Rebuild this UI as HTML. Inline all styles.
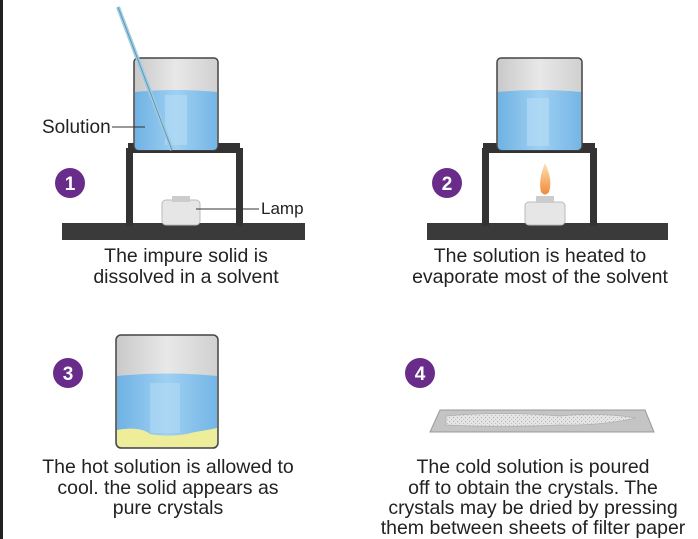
<!DOCTYPE html>
<html><head><meta charset="utf-8"><style>
html,body{margin:0;padding:0;background:#fff;}
svg{display:block;}
text{font-family:"Liberation Sans",sans-serif;fill:#222;}
</style></head><body>
<svg width="698" height="539" viewBox="0 0 698 539" xmlns="http://www.w3.org/2000/svg">
<defs>
<linearGradient id="gl" x1="0" x2="1"><stop offset="0" stop-color="#c9c9c9"/><stop offset="0.5" stop-color="#e8e8e8"/><stop offset="1" stop-color="#d0d0d0"/></linearGradient>
<linearGradient id="wt" x1="0" x2="1"><stop offset="0" stop-color="#6fb2e4"/><stop offset="0.5" stop-color="#9fd0f2"/><stop offset="1" stop-color="#74b6e6"/></linearGradient>
<linearGradient id="fl" x1="0" x2="0" y1="0" y2="1"><stop offset="0" stop-color="#fde3b0"/><stop offset="1" stop-color="#f08a3c"/></linearGradient>
<pattern id="sp" width="4" height="4" patternUnits="userSpaceOnUse"><rect width="4" height="4" fill="#e4e4e4"/><rect x="1" y="1" width="1" height="1" fill="#b0b0b0"/><rect x="3" y="3" width="1" height="1" fill="#c0c0c0"/></pattern>
</defs>
<rect x="0" y="0" width="698" height="539" fill="#fff"/>
<rect x="0" y="0" width="3" height="539" fill="#222"/>

<!-- Panel 1 -->
<rect x="62" y="223" width="243" height="17" fill="#3a3a3a"/>
<rect x="126" y="148" width="7" height="78" fill="#333"/>
<rect x="236" y="148" width="7" height="78" fill="#333"/>
<rect x="128" y="143" width="112" height="10" fill="#333"/>
<rect x="134" y="58" width="84" height="92" rx="4" fill="url(#gl)" stroke="#444" stroke-width="1.5"/>
<path d="M135 92 Q175 88 217 92 L217 146 Q217 150 213 150 L139 150 Q135 150 135 146 Z" fill="url(#wt)"/>
<rect x="165" y="95" width="22" height="50" fill="#b8def6" opacity="0.6"/>
<line x1="118" y1="7" x2="172" y2="150" stroke="#9ccbe4" stroke-width="4"/>
<line x1="118" y1="7" x2="172" y2="150" stroke="#5c8ca8" stroke-width="0.8"/>
<rect x="162" y="200" width="38" height="25" rx="4" fill="#e6e6e6" stroke="#bbb"/>
<rect x="172" y="196" width="18" height="6" fill="#ccc"/>
<line x1="112" y1="127" x2="145" y2="127" stroke="#333" stroke-width="1"/>
<text x="42" y="133" font-size="19">Solution</text>
<line x1="196" y1="209" x2="259" y2="209" stroke="#333" stroke-width="1"/>
<text x="261" y="214" font-size="17">Lamp</text>
<circle cx="70" cy="183" r="15" fill="#6a2c8a"/>
<text x="70" y="190" font-size="19" font-weight="bold" text-anchor="middle" style="fill:#fff">1</text>
<text x="186" y="262" font-size="19.5" text-anchor="middle">The impure solid is</text>
<text x="186" y="283" font-size="19.5" text-anchor="middle">dissolved in a solvent</text>

<!-- Panel 2 -->
<rect x="427" y="223" width="241" height="17" fill="#3a3a3a"/>
<rect x="482" y="148" width="7" height="78" fill="#333"/>
<rect x="590" y="148" width="7" height="78" fill="#333"/>
<rect x="483" y="143" width="112" height="10" fill="#333"/>
<rect x="497" y="58" width="85" height="92" rx="4" fill="url(#gl)" stroke="#444" stroke-width="1.5"/>
<path d="M498 92 Q540 88 581 92 L581 146 Q581 150 577 150 L502 150 Q498 150 498 146 Z" fill="url(#wt)"/>
<rect x="527" y="98" width="22" height="48" fill="#b8def6" opacity="0.6"/>
<rect x="525" y="202" width="40" height="23" rx="4" fill="#e6e6e6" stroke="#bbb"/>
<rect x="536" y="196" width="18" height="7" fill="#ccc"/>
<path d="M545 163 Q553 180 549 192 Q545 197 541 192 Q538 180 545 163Z" fill="url(#fl)"/>
<circle cx="447" cy="183" r="15" fill="#6a2c8a"/>
<text x="447" y="190" font-size="19" font-weight="bold" text-anchor="middle" style="fill:#fff">2</text>
<text x="540" y="262" font-size="19.5" text-anchor="middle">The solution is heated to</text>
<text x="540" y="283" font-size="19.5" text-anchor="middle">evaporate most of the solvent</text>

<!-- Panel 3 -->
<rect x="116" y="335" width="102" height="113" rx="5" fill="url(#gl)" stroke="#444" stroke-width="1.5"/>
<path d="M117 376 Q167 371 217 376 L217 442 Q217 447 212 447 L122 447 Q117 447 117 442 Z" fill="url(#wt)"/>
<path d="M117 430 Q140 426 150 434 Q175 438 195 432 Q208 430 217 428 L217 442 Q217 447 212 447 L122 447 Q117 447 117 442 Z" fill="#eeee9a"/>
<rect x="150" y="383" width="30" height="50" fill="#b8def6" opacity="0.5"/>
<circle cx="68" cy="373" r="15" fill="#6a2c8a"/>
<text x="68" y="380" font-size="19" font-weight="bold" text-anchor="middle" style="fill:#fff">3</text>
<text x="168" y="473" font-size="19.5" text-anchor="middle">The hot solution is allowed to</text>
<text x="168" y="494" font-size="19.5" text-anchor="middle">cool. the solid appears as</text>
<text x="168" y="514" font-size="19.5" text-anchor="middle">pure crystals</text>

<!-- Panel 4 -->
<polygon points="440,410 645,410 654,432 430,432" fill="#c4c4c4" stroke="#999"/>
<path d="M446 416 Q500 411 560 416 Q600 412 636 418 Q600 426 560 425 Q500 428 446 425 Z" fill="url(#sp)" stroke="#b0b0b0" stroke-width="0.8"/>
<circle cx="420" cy="373" r="15" fill="#6a2c8a"/>
<text x="420" y="380" font-size="19" font-weight="bold" text-anchor="middle" style="fill:#fff">4</text>
<text x="533" y="473" font-size="19.5" text-anchor="middle">The cold solution is poured</text>
<text x="533" y="494" font-size="19.5" text-anchor="middle">off to obtain the crystals. The</text>
<text x="533" y="514" font-size="19.5" text-anchor="middle">crystals may be dried by pressing</text>
<text x="533" y="534" font-size="19.5" text-anchor="middle">them between sheets of filter paper</text>
</svg>
</body></html>
